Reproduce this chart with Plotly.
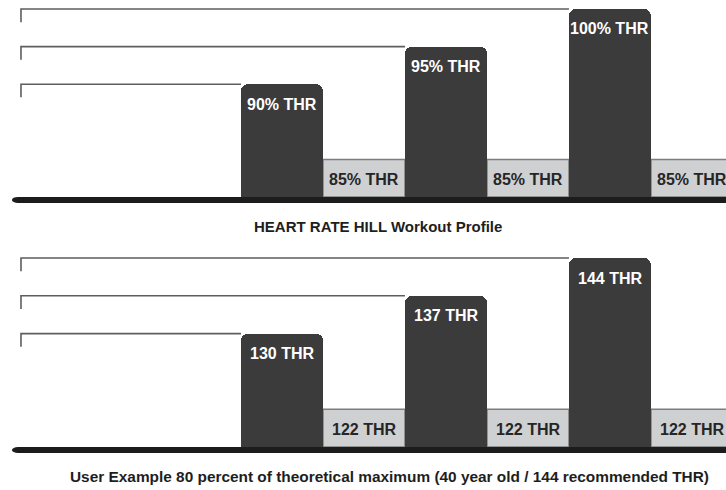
import plotly.graph_objects as go

# ---- data ----
positions = [0, 1, 2, 3, 4, 5]                    # step order
levels = [3, 1, 4, 1, 5, 1]                       # schematic height of each step
is_peak = [True, False, True, False, True, False]
labels_pct = ["90% THR", "85% THR", "95% THR", "85% THR", "100% THR", "85% THR"]
labels_bpm = ["130 THR", "122 THR", "137 THR", "122 THR", "144 THR", "122 THR"]
captions = [
    "HEART RATE HILL Workout Profile",
    "User Example 80 percent of theoretical maximum (40 year old / 144 recommended THR)",
]

DARK = "#3b3b3b"
LIGHT = "#cfd0d2"
LABEL_FONT = "Liberation Sans, Arial, sans-serif"
CAP_FONT = "Liberation Sans, Arial, sans-serif"

W, H = 726, 490
X_RANGE = [-3.439, 5.415]
X_LEFT_TICK = -3.183
X_BASE_LEFT = -3.22

panels = [
    dict(labels=labels_pct, yrange=[-0.346, 5.239], domain=[1 - 210 / H, 1.0],
         cap_y=1 - 226 / H, cap_x=0.521, cap_size=15),
    dict(labels=labels_bpm, yrange=[-0.344, 5.344], domain=[1 - 460 / H, 1 - 245 / H],
         cap_y=1 - 476 / H, cap_x=0.537, cap_size=15.4),
]

fig = go.Figure()
shapes = []
annotations = []

for p_i, p in enumerate(panels):
    xa = "x" if p_i == 0 else "x2"
    ya = "y" if p_i == 0 else "y2"
    peak_x = [x for x, k in zip(positions, is_peak) if k]
    peak_y = [v for v, k in zip(levels, is_peak) if k]
    rest_x = [x for x, k in zip(positions, is_peak) if not k]
    rest_y = [v for v, k in zip(levels, is_peak) if not k]

    # reference lines leading into each peak
    for x, v in zip(peak_x, peak_y):
        fig.add_trace(go.Scatter(
            x=[X_LEFT_TICK, X_LEFT_TICK, x - 0.5], y=[v - 0.35, v, v],
            mode="lines", line=dict(color="#5e5e5e", width=1.6),
            xaxis=xa, yaxis=ya, hoverinfo="skip", showlegend=False))

    fig.add_trace(go.Bar(
        x=rest_x, y=rest_y, width=1, marker=dict(color=LIGHT, line=dict(color="#7d7d7d", width=1.5)),
        xaxis=xa, yaxis=ya, hoverinfo="skip", showlegend=False))
    fig.add_trace(go.Bar(
        x=peak_x, y=peak_y, width=1, marker=dict(color=DARK, cornerradius=7, line=dict(width=0)),
        xaxis=xa, yaxis=ya, hoverinfo="skip", showlegend=False))

    for x, v, k, t in zip(positions, levels, is_peak, p["labels"]):
        annotations.append(dict(
            x=x, y=v, xref=xa, yref=ya, text=t, showarrow=False,
            yanchor="middle", yshift=-20,
            font=dict(family=LABEL_FONT, size=16, color="#ffffff" if k else "#262626", weight="bold")))

    # thick baseline with rounded left end
    shapes.append(dict(type="rect", xref=xa, yref=ya, ysizemode="pixel", yanchor=0,
                       x0=X_BASE_LEFT, x1=X_RANGE[1] + 0.2, y0=-6, y1=0,
                       fillcolor="#1c1c1c", line=dict(width=0)))
    shapes.append(dict(type="circle", xref=xa, yref=ya, xsizemode="pixel", ysizemode="pixel",
                       xanchor=X_BASE_LEFT, yanchor=0, x0=-6, x1=6, y0=-6, y1=0,
                       fillcolor="#1c1c1c", line=dict(width=0)))

    annotations.append(dict(
        x=p["cap_x"], y=p["cap_y"], xref="paper", yref="paper", text=captions[p_i],
        showarrow=False, xanchor="center", yanchor="middle",
        font=dict(family=CAP_FONT, size=p["cap_size"], color="#1e1e1e", weight="bold")))

ax_common = dict(visible=False, fixedrange=True)
fig.update_layout(
    width=W, height=H,
    margin=dict(l=0, r=0, t=0, b=0),
    paper_bgcolor="white", plot_bgcolor="white",
    barmode="overlay", bargap=0,
    showlegend=False,
    xaxis=dict(range=X_RANGE, domain=[0, 1], anchor="y", **ax_common),
    yaxis=dict(range=panels[0]["yrange"], domain=panels[0]["domain"], anchor="x", **ax_common),
    xaxis2=dict(range=X_RANGE, domain=[0, 1], anchor="y2", **ax_common),
    yaxis2=dict(range=panels[1]["yrange"], domain=panels[1]["domain"], anchor="x2", **ax_common),
    shapes=shapes,
    annotations=annotations,
)

fig.write_html("out.html", config={"displayModeBar": False, "staticPlot": True},
               post_script="document.body.style.margin='0';")
